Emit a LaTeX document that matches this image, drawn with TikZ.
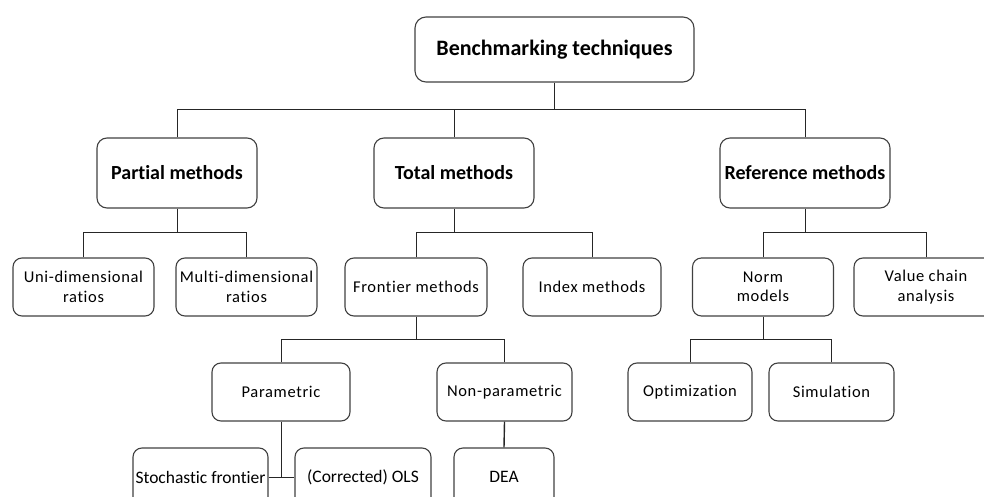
\documentclass[tikz,border=0pt]{standalone}
\usepackage{fontspec}
\newfontfamily\headfont{Carlito}[Ligatures=NoCommon]
\newfontfamily\boxfont{Carlito}[LetterSpace=4.0, Ligatures=NoCommon]
\newfontfamily\leaffont{Carlito}[Ligatures=NoCommon]

\tikzset{
  box/.style={draw=black!75, line width=1.1pt, rounded corners=9pt,
    inner sep=0pt, align=center, text=black},
  topbox/.style={box, rounded corners=11pt, font=\headfont\bfseries\fontsize{22}{26}\selectfont},
  midbox/.style={box, rounded corners=10pt, minimum height=70pt, font=\headfont\bfseries\fontsize{20}{24}\selectfont},
  subbox/.style={box, minimum height=58pt, font=\boxfont\fontsize{16.5}{19.5}\selectfont},
  leafbox/.style={box, minimum height=58pt, font=\leaffont\fontsize{17.5}{21}\selectfont},
  link/.style={draw=black!85, line width=0.9pt},
}

\begin{document}
\begin{tikzpicture}[x=1pt, y=-1pt]
  \useasboundingbox (0,0) rectangle (984,497);
  \clip (0,0) rectangle (984,497);

  % bus levels of the tree
  \coordinate (busA) at (0,109);
  \coordinate (busB) at (0,232);
  \coordinate (busC) at (0,339);

  % root
  \node[topbox, minimum width=279pt, minimum height=65pt] (bench) at (554.5,49.5) {Benchmarking techniques};

  % main families
  \node[midbox, minimum width=160pt] (partial) at (177,173) {Partial methods};
  \node[midbox, minimum width=160pt] (total)   at (454,173) {Total methods};
  \node[midbox, minimum width=170pt] (ref)     at (805,173) {Reference methods};

  % third level
  \node[subbox, minimum width=141pt] (uni)   at (83.5,287)  {Uni-dimensional\\ratios};
  \node[subbox, minimum width=141pt] (multi) at (246.5,287) {Multi-dimensional\\ratios};
  \node[subbox, minimum width=142pt] (front) at (416,287)   {Frontier methods};
  \node[subbox, minimum width=138pt] (index) at (592,287)   {Index methods};
  \node[subbox, minimum width=141pt] (norm)  at (763,287)   {Norm\\models};
  \node[subbox, minimum width=144pt] (value) at (926,287)   {Value chain\\analysis};

  % fourth level
  \node[subbox, minimum width=138pt] (param)  at (281,392)   {Parametric};
  \node[subbox, minimum width=135pt] (nonpar) at (504.5,392) {Non-parametric};
  \node[subbox, minimum width=124pt] (optim)  at (690,392)   {Optimization};
  \node[subbox, minimum width=125pt] (simul)  at (831.5,392) {Simulation};

  % leaves
  \node[leafbox, minimum width=135pt] (stoch) at (200.5,477) {Stochastic frontier};
  \node[leafbox, minimum width=136pt] (ols)   at (363,477)   {(Corrected) OLS};
  \node[leafbox, minimum width=100pt] (dea)   at (504,477)   {DEA};

  % connectors: root to families
  \draw[link] (bench.south) -- (bench.south |- busA);
  \foreach \c in {partial,total,ref}
    \draw[link] (\c.north) |- (bench.south |- busA);

  % partial methods
  \draw[link] (partial.south) -- (partial.south |- busB);
  \foreach \c in {uni,multi}
    \draw[link] (\c.north) |- (partial.south |- busB);

  % total methods
  \draw[link] (total.south) -- (total.south |- busB);
  \foreach \c in {front,index}
    \draw[link] (\c.north) |- (total.south |- busB);

  % reference methods
  \draw[link] (ref.south) -- (ref.south |- busB);
  \foreach \c in {norm,value}
    \draw[link] (\c.north) |- (ref.south |- busB);

  % frontier methods
  \draw[link] (front.south) -- (front.south |- busC);
  \foreach \c in {param,nonpar}
    \draw[link] (\c.north) |- (front.south |- busC);

  % norm models
  \draw[link] (norm.south) -- (norm.south |- busC);
  \foreach \c in {optim,simul}
    \draw[link] (\c.north) |- (norm.south |- busC);

  % parametric and non-parametric leaves
  \draw[link] (stoch.east) -- (ols.west);
  \draw[link] (param.south) -- (param.south |- stoch.east);
  \draw[link, line width=1.4pt] (nonpar.south) -- (dea.north);
\end{tikzpicture}
\end{document}
